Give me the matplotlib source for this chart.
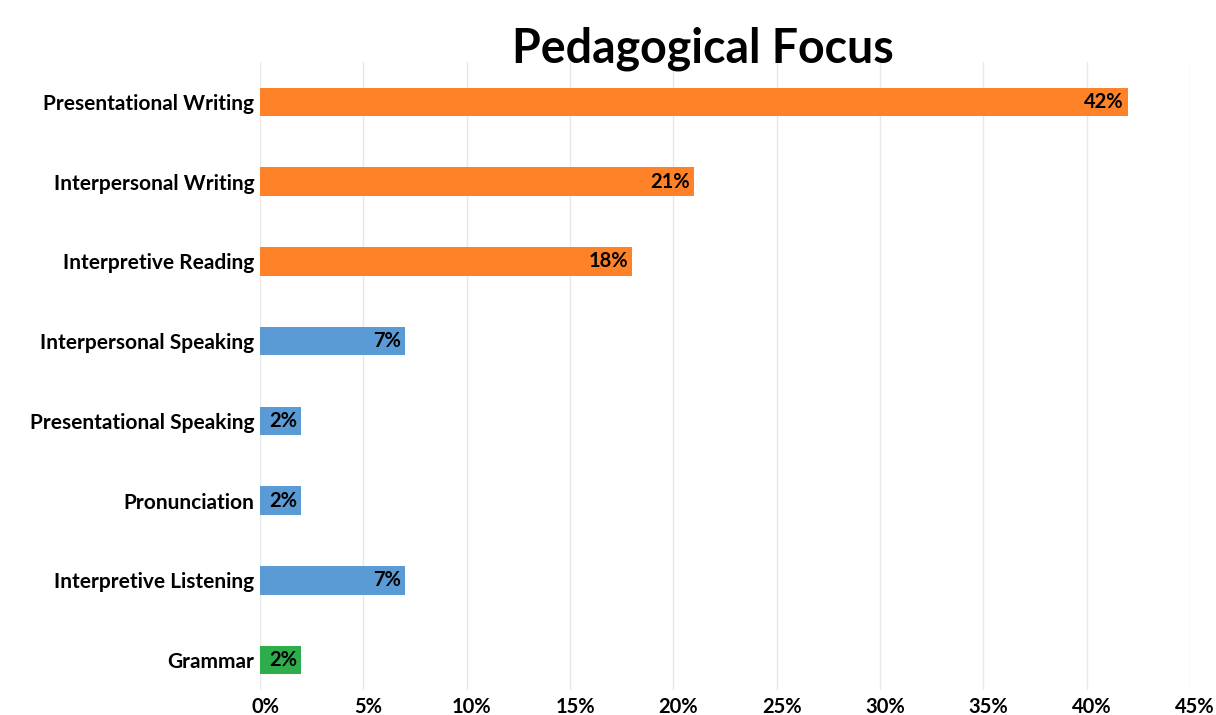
import matplotlib
matplotlib.use("Agg")
import matplotlib.pyplot as plt
import matplotlib.transforms as mtransforms

categories = ["Presentational Writing", "Interpersonal Writing", "Interpretive Reading",
              "Interpersonal Speaking", "Presentational Speaking", "Pronunciation",
              "Interpretive Listening", "Grammar"]
values = [42, 21, 18, 7, 2, 2, 7, 2]
groups = ["writing", "writing", "reading", "speaking", "speaking", "speaking", "listening", "grammar"]
group_colors = {"writing": "#FF8228", "reading": "#FF8228", "speaking": "#5B9BD5",
                "listening": "#5B9BD5", "grammar": "#2EAD4B"}
xticks = [0, 5, 10, 15, 20, 25, 30, 35, 40, 45]
xtick_labels = [f"{t}%" for t in xticks]
title = "Pedagogical Focus"

plt.rcParams['font.family'] = ['Lato', 'DejaVu Sans']

W, H = 1216, 715
fig = plt.figure(figsize=(W / 100, H / 100), dpi=100)
left, right = 260 / W, 1190 / W
top, bottom = 62 / H, 690 / H
ax = fig.add_axes([left, 1 - bottom, right - left, bottom - top])

ypos = list(range(len(categories)))
colors = [group_colors[g] for g in groups]
ax.barh(ypos, values, height=0.36, color=colors, zorder=3)
for y, v in zip(ypos, values):
    ax.text(v - 0.2, y, f"{v}%", ha="right", va="center", fontsize=14.5,
            fontweight="bold", color="black", zorder=4)

ax.set_xlim(0, 45)
ax.set_ylim(7 + 30 / 79.71, -0.502)
ax.set_yticks(ypos)
ax.set_yticklabels(categories, fontsize=15, fontweight="bold")
ax.set_xticks(xticks)
ax.set_xticklabels(xtick_labels, fontsize=14.5, fontweight="bold")
ax.tick_params(axis="both", length=0)
ax.tick_params(axis="y", pad=4)
ax.tick_params(axis="x", pad=5)
offset = mtransforms.ScaledTranslation(5 / 100, 0, fig.dpi_scale_trans)
for lbl in ax.get_xticklabels():
    lbl.set_transform(lbl.get_transform() + offset)
for s in ax.spines.values():
    s.set_visible(False)
ax.grid(axis="x", color="#E8E8E8", linewidth=1, zorder=0)
ax.set_axisbelow(True)

fig.text(703 / W, 1 - 49 / H, title, ha="center", va="center", fontsize=33.5,
         fontweight="bold", color="black")

fig.savefig("out.png", dpi=100, facecolor="white")
